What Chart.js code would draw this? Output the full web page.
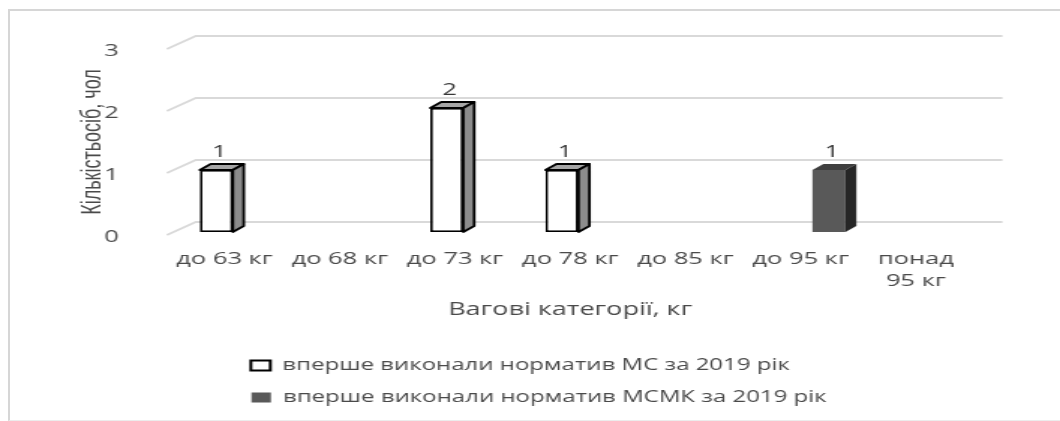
<!DOCTYPE html>
<html>
<head>
<meta charset="utf-8">
<script src="https://cdn.jsdelivr.net/npm/chart.js@4.4.1/dist/chart.umd.min.js"></script>
<style>
  html, body { margin: 0; padding: 0; background: #ffffff; width: 1060px; height: 421px; overflow: hidden; }
  #frame { position: absolute; left: 8px; top: 9px; width: 1100px; height: 409px;
           border-left: 2px solid #d6d6d6; border-top: 2px solid #d6d6d6; border-bottom: 1px solid #ececec; }
  #c { position: absolute; left: 0; top: 0; }
</style>
</head>
<body>
<div id="frame"></div>
<canvas id="c" width="707" height="421" style="width:1060px;height:421px;"></canvas>
<script>
// ---- data ----
const categories = ['до 63 кг', 'до 68 кг', 'до 73 кг', 'до 78 кг', 'до 85 кг', 'до 95 кг', ['понад', '95 кг']];
const seriesNames = ['вперше виконали норматив МС за 2019 рік', 'вперше виконали норматив МСМК за 2019 рік'];
const msValues = [1, 0, 2, 1, 0, 0, 0];
const msmkValues = [0, 0, 0, 0, 0, 1, 0];
const yTicks = [0, 1, 2, 3];
const xTitle = 'Вагові категорії, кг';
const yTitle = 'Кількістьосіб, чол';

// ---- styles / geometry (canvas px; canvas is stretched horizontally by CSS) ----
const textColor = '#4a4a4a';
const labelColor = '#383838';
const gridColor = '#d9d9d9';
const frontColors = ['#ffffff', '#595959'];
const sideColors = ['#8c8c8c', '#262626'];
const topColors = ['#a6a6a6', '#3f3f3f'];
const edgeColors = ['#000000', null];
const edgeWidths = [1.8, 0];
const wallOffset = { dx: 19.3, dy: -13 };
const barShift = { dx: 6.7, dy: -3 };
const barDepth = { dx: 7.3, dy: -6 };
const baseFont = "'Open Sans', 'Noto Sans', sans-serif";
const legendFontSize = 16;
const legendBoxW = 13;
const legendItemWidth = 423;

const mctx = document.createElement('canvas').getContext('2d');
mctx.font = legendFontSize + 'px ' + baseFont;
function padText(t, target) {
  let s = t;
  let guard = 0;
  while (mctx.measureText(s).width < target && guard < 200) { s += '\u00A0'; guard++; }
  return s;
}

const wall3d = {
  id: 'wall3d',
  beforeDatasetsDraw(chart) {
    const { ctx, chartArea: a } = chart;
    const y = chart.scales.y;
    ctx.save();
    ctx.strokeStyle = gridColor;
    ctx.lineWidth = 1.8;
    y.ticks.forEach(t => {
      const py = y.getPixelForValue(t.value);
      ctx.beginPath();
      ctx.moveTo(a.left, py);
      ctx.lineTo(a.left + wallOffset.dx, py + wallOffset.dy);
      ctx.lineTo(a.right + wallOffset.dx, py + wallOffset.dy);
      ctx.stroke();
    });
    ctx.restore();
    ctx.save();
    ctx.translate(barShift.dx, barShift.dy);
  },
  afterDatasetsDraw(chart) {
    const ctx = chart.ctx;
    const dx = barDepth.dx, dy = barDepth.dy;
    chart.data.datasets.forEach((ds, di) => {
      const meta = chart.getDatasetMeta(di);
      meta.data.forEach((bar, i) => {
        const v = ds.data[i];
        if (!v) return;
        const p = bar.getProps(['x', 'y', 'base', 'width'], true);
        const l = p.x - p.width / 2, r = p.x + p.width / 2;
        ctx.save();
        ctx.lineJoin = 'round';
        // top face
        ctx.beginPath();
        ctx.moveTo(l, p.y); ctx.lineTo(l + dx, p.y + dy); ctx.lineTo(r + dx, p.y + dy); ctx.lineTo(r, p.y); ctx.closePath();
        ctx.fillStyle = topColors[di]; ctx.fill();
        if (edgeColors[di]) { ctx.strokeStyle = edgeColors[di]; ctx.lineWidth = edgeWidths[di]; ctx.stroke(); }
        // side face
        ctx.beginPath();
        ctx.moveTo(r, p.y); ctx.lineTo(r + dx, p.y + dy); ctx.lineTo(r + dx, p.base + dy); ctx.lineTo(r, p.base); ctx.closePath();
        ctx.fillStyle = sideColors[di]; ctx.fill();
        if (edgeColors[di]) { ctx.strokeStyle = edgeColors[di]; ctx.lineWidth = edgeWidths[di]; ctx.stroke(); }
        // value label
        ctx.fillStyle = labelColor;
        ctx.font = '17px ' + baseFont;
        ctx.textAlign = 'center';
        ctx.textBaseline = 'middle';
        ctx.fillText(String(v), p.x + 2, p.y - 18);
        ctx.restore();
      });
    });
    ctx.restore();
  }
};

new Chart(document.getElementById('c'), {
  type: 'bar',
  data: {
    labels: categories,
    datasets: [
      { label: seriesNames[0], data: msValues, backgroundColor: frontColors[0], borderColor: edgeColors[0], borderWidth: edgeWidths[0], borderSkipped: false },
      { label: seriesNames[1], data: msmkValues, backgroundColor: frontColors[1], borderWidth: 0, borderSkipped: false }
    ]
  },
  options: {
    responsive: false,
    animation: false,
    devicePixelRatio: 1,
    layout: { padding: { top: 49, bottom: 5.5, left: 0, right: 0 } },
    datasets: { bar: { categoryPercentage: 0.633, barPercentage: 0.905 } },
    scales: {
      x: {
        offset: true,
        grid: { display: false, drawTicks: false },
        border: { display: false },
        ticks: { color: textColor, font: { family: baseFont, size: 17, lineHeight: 1.3 }, padding: 13, maxRotation: 0, autoSkip: false },
        title: { display: true, text: xTitle, color: textColor, font: { family: baseFont, size: 18 }, padding: { top: 0, bottom: 20.7 } },
        afterFit(s) { s.height = 106.5; }
      },
      y: {
        min: 0, max: 3,
        afterBuildTicks(s) { s.ticks = yTicks.map(v => ({ value: v })); },
        grid: { display: false, drawTicks: false },
        border: { display: false },
        ticks: { color: textColor, font: { family: baseFont, size: 17 }, padding: 32, labelOffset: 2 },
        title: { display: true, text: yTitle, color: textColor,
                 font: { family: "'Liberation Sans', Arial, sans-serif", size: 18 },
                 padding: { top: 51.5, bottom: 0 } },
        afterFit(s) { s.width = 111.3; }
      },
      y2: {
        position: 'right',
        grid: { display: false, drawTicks: false },
        border: { display: false },
        ticks: { display: false },
        afterFit(s) { s.width = 57.7; }
      }
    },
    plugins: {
      tooltip: { enabled: false },
      legend: {
        position: 'bottom',
        fullSize: false,
        labels: {
          boxWidth: legendBoxW,
          boxHeight: 10,
          padding: 16,
          color: textColor,
          font: { family: baseFont, size: legendFontSize },
          generateLabels(chart) {
            const target = legendItemWidth - legendBoxW - legendFontSize / 2;
            return chart.data.datasets.map((ds, i) => ({
              text: padText(ds.label, target),
              fillStyle: frontColors[i],
              strokeStyle: i === 0 ? '#000000' : frontColors[i],
              lineWidth: i === 0 ? 2 : 0,
              fontColor: textColor,
              hidden: false,
              datasetIndex: i
            }));
          }
        }
      }
    }
  },
  plugins: [wall3d]
});
</script>
</body>
</html>
